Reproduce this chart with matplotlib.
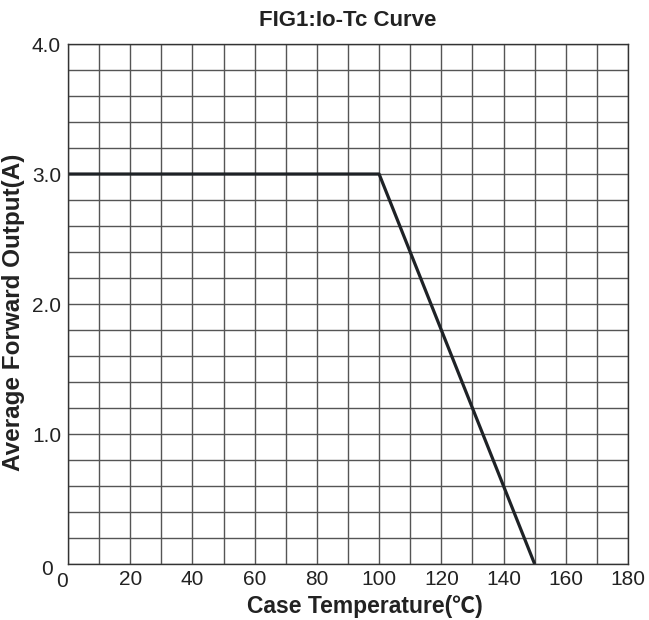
import matplotlib
matplotlib.use("Agg")
import matplotlib.pyplot as plt
from matplotlib.transforms import ScaledTranslation
import numpy as np

plt.rcParams['font.family'] = ['Liberation Sans', 'DejaVu Sans']

temp = [0, 100, 150]
current = [3.0, 3.0, 0.0]
xticks = [0, 20, 40, 60, 80, 100, 120, 140, 160, 180]
yticks = [0, 1.0, 2.0, 3.0, 4.0]
ytick_labels = ["0", "1.0", "2.0", "3.0", "4.0"]

fig = plt.figure(figsize=(6.49, 6.2), dpi=100)
ax = fig.add_axes([0.1048, 0.0903, 0.8628, 0.8387])
ax.set_xlim(0, 180)
ax.set_ylim(0, 4.0)
ax.set_xticks(np.arange(0, 181, 10), minor=True)
ax.set_yticks(np.arange(0, 4.01, 0.2), minor=True)
ax.set_xticks(xticks)
ax.set_xticklabels([str(t) for t in xticks])
ax.set_yticks(yticks)
ax.set_yticklabels(ytick_labels)
ax.grid(True, which='both', color='#555555', linewidth=1.0)
ax.set_axisbelow(True)
ax.tick_params(which='both', length=0, labelsize=15, colors='#222222')
ax.tick_params(axis='x', pad=4)
ax.tick_params(axis='y', pad=5)
for s in ax.spines.values():
    s.set_color('#333333')
    s.set_linewidth(1.0)

# nudge the two "0" labels as in the reference
fig.canvas.draw()
xl0 = ax.get_xticklabels()[0]
xl0.set_transform(xl0.get_transform() + ScaledTranslation(-0.06, -0.02, fig.dpi_scale_trans))
yl0 = ax.get_yticklabels()[0]
yl0.set_transform(yl0.get_transform() + ScaledTranslation(-0.08, -0.03, fig.dpi_scale_trans))

ax.plot(temp, current, color='#1e2226', linewidth=2.3, solid_capstyle='butt')

ax.set_title("FIG1:Io-Tc Curve", fontsize=16, fontweight='bold', pad=13, color='#222222')
ax.set_xlabel("Case Temperature(℃)", fontsize=16.5, fontweight='bold', color='#222222',
              family=['Liberation Sans', 'Noto Sans CJK SC', 'DejaVu Sans'])
ax.xaxis.set_label_coords(0.53, -0.06)
ax.set_ylabel("Average Forward Output(A)", fontsize=17.5, fontweight='bold', color='#222222')
ax.yaxis.set_label_coords(-0.077, 0.485)

fig.savefig("out.png", dpi=100)
